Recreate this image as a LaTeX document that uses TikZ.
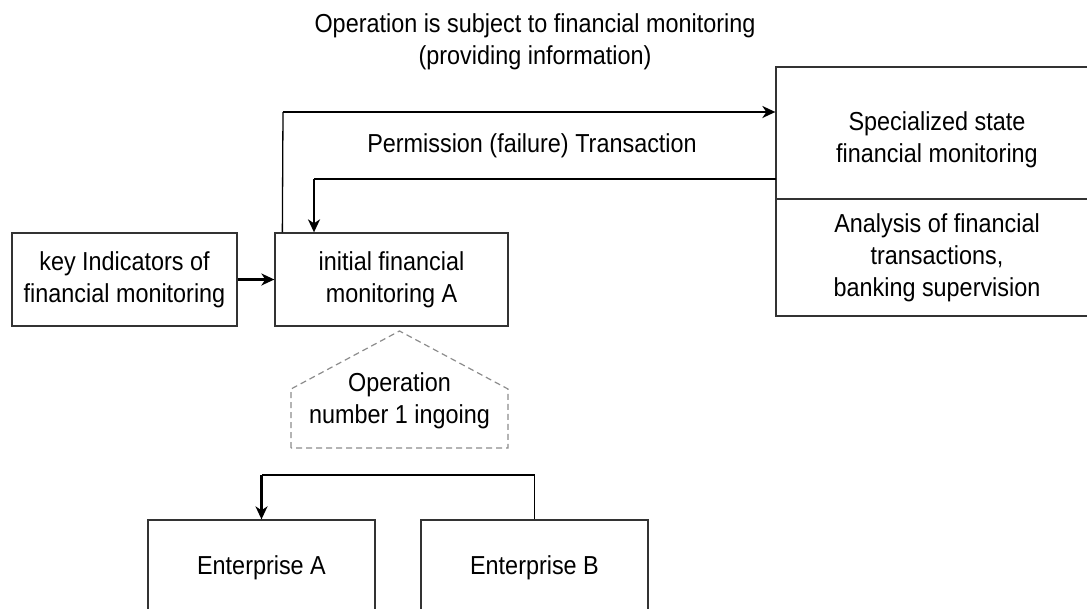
\documentclass[tikz,border=0pt]{standalone}
\usepackage{fontspec}
\setmainfont[FakeStretch=0.9]{Liberation Sans}
\usetikzlibrary{arrows.meta}
\definecolor{edge}{HTML}{333333}
\definecolor{dashgray}{HTML}{8C8C8C}
\begin{document}
\begin{tikzpicture}[x=1pt,y=-1pt,
  every node/.style={font=\fontsize{26}{32}\selectfont, align=center, inner sep=0pt},
  box/.style={draw=edge, line width=1.3pt, rectangle},
  wire/.style={draw=black, line width=1.3pt},
  feed/.style={draw=black, line width=2.2pt, -{Stealth[length=13pt,width=12pt,inset=4pt]}},
  plain/.style={draw=none}]
\useasboundingbox (0,0) rectangle (1087,608);

% blocks
\node[box, minimum width=225pt, minimum height=93pt] (key) at (124.5,279.5)
  {key Indicators of\\financial monitoring};
\node[box, minimum width=233pt, minimum height=93pt] (init) at (391.5,279.5)
  {initial financial\\monitoring A};
\node[box, minimum width=322pt, minimum height=132pt] (spec) at (937,133) {};
\node[plain] (spectext) at (937,140) {Specialized state\\financial monitoring};
\node[box, minimum width=322pt, minimum height=117pt] (anal) at (937,257.5)
  {Analysis of financial\\transactions,\\banking supervision};
\node[box, minimum width=227pt, minimum height=96pt] (entA) at (261.5,568)
  {Enterprise A};
\node[box, minimum width=227pt, minimum height=96pt] (entB) at (534.5,568)
  {Enterprise B};

% labels
\node[plain] (lblop) at (535,42)
  {Operation is subject to financial monitoring\\(providing information)};
\node[plain] (lblperm) at (532,146) {Permission (failure) Transaction};

% dashed pentagon with the incoming operation
\node[plain] (oper) at (399.5,401) {Operation\\number 1 ingoing};
\draw[dashgray, line width=1.2pt, dash pattern=on 6pt off 4pt]
  (291,448) coordinate (pbl) -- (291,389) coordinate (ptl) -- (399.5,331) coordinate (ptop)
  -- (508,389) coordinate (ptr) -- (508,448) coordinate (pbr) -- cycle;

% key indicators -> initial monitoring
\draw[feed] (key.east) -- (init.west);

% initial monitoring -> state monitoring
\coordinate (up1) at ([xshift=8pt]init.north west);
\coordinate (c1) at (283,112);
\draw[wire] (up1) -- (c1);
\draw[feed] (c1) -- (c1 -| spec.west);

% state monitoring -> initial monitoring
\coordinate (s2) at (776,179);
\coordinate (c2) at (314,179);
\draw[wire] (s2) -- (c2);
\draw[feed] (c2) -- (c2 |- init.north);

% enterprise B -> enterprise A
\coordinate (b1) at (534.5,475);
\coordinate (b2) at (261.5,475);
\draw[wire] (entB.north) -- (b1) -- (b2);
\draw[feed] (b2) -- (entA.north);
\end{tikzpicture}
\end{document}
